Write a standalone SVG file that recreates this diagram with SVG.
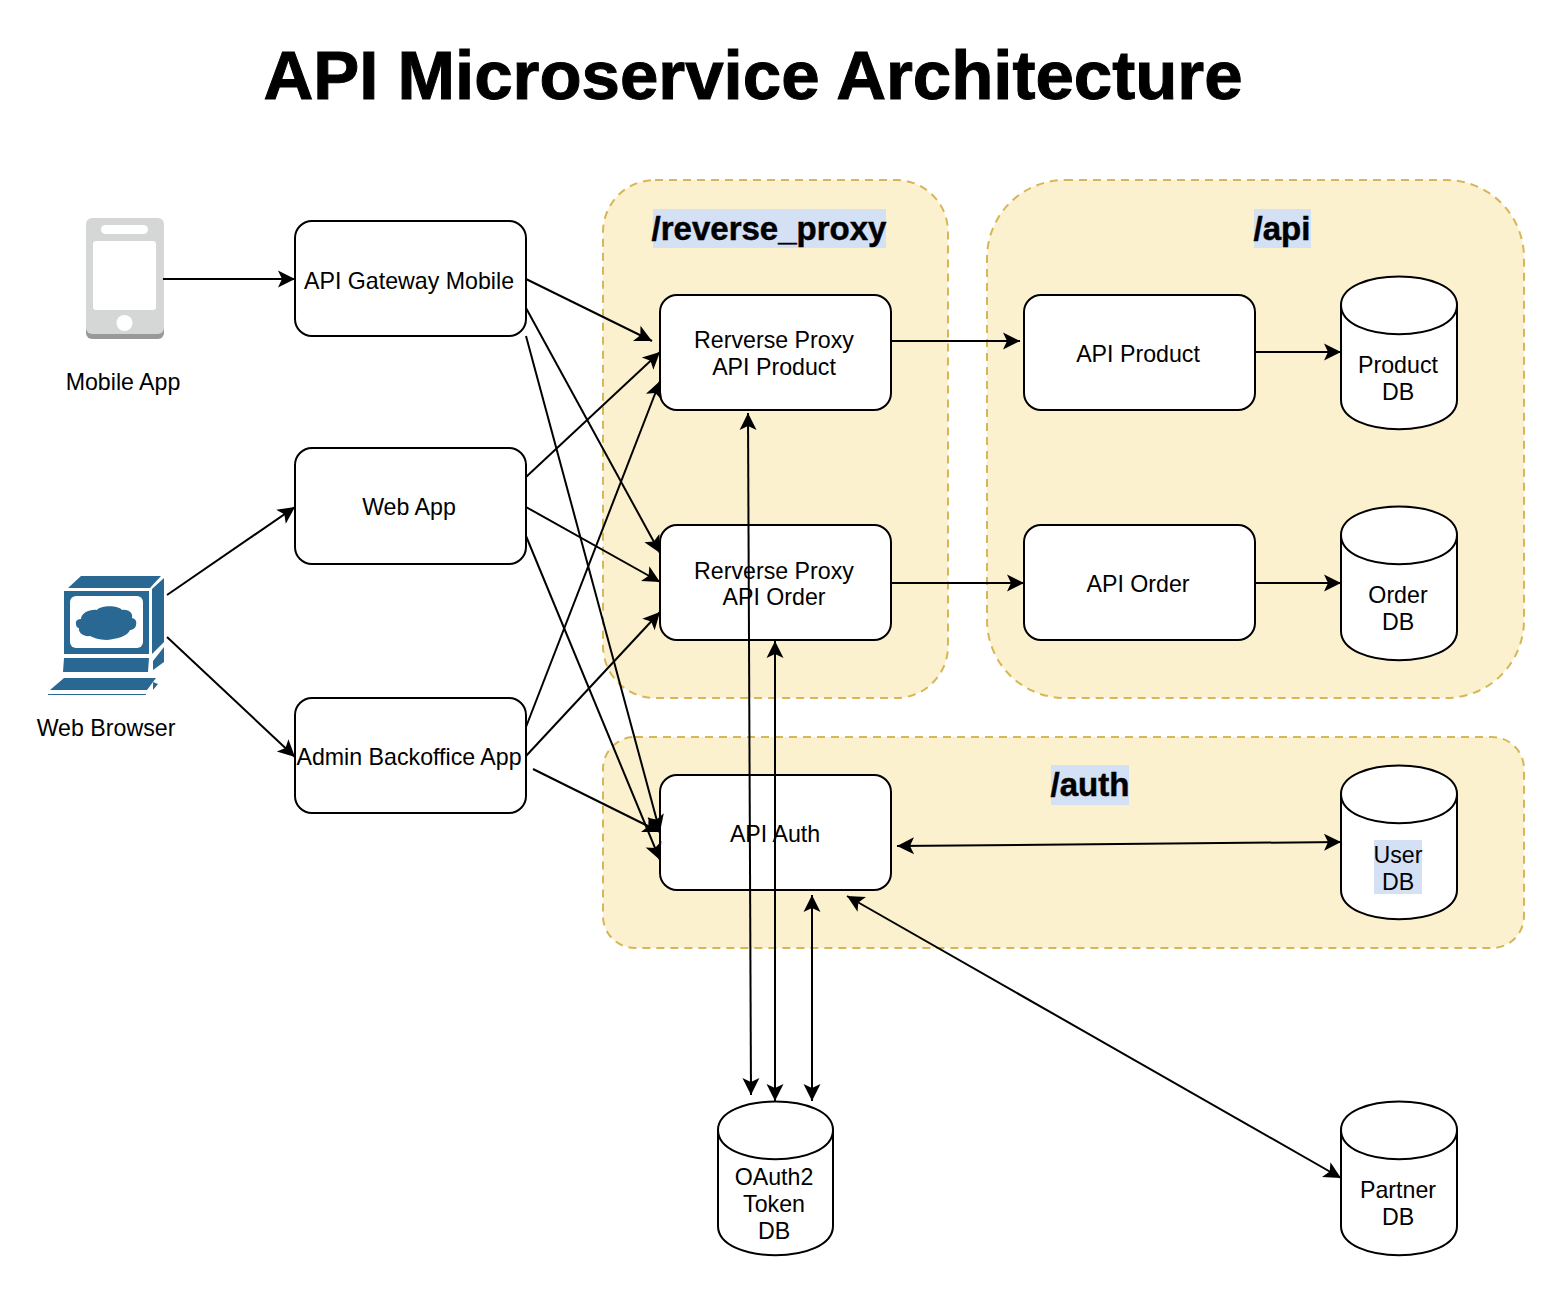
<svg xmlns="http://www.w3.org/2000/svg" width="1568" height="1304" viewBox="0 0 1568 1304">
<style>
text{font-family:"Liberation Sans",Arial,sans-serif;font-size:23.2px;fill:#000;text-anchor:middle}
.zone{fill:#fcf1cf;stroke:#d6b656;stroke-width:2;stroke-dasharray:8 6}
.box,.db{fill:#fff;stroke:#000;stroke-width:2}
.db2{fill:none;stroke:#000;stroke-width:2}
.h{font-size:33px;font-weight:bold;stroke:#000;stroke-width:.5}
.hl{fill:#d4e1f5}
.e{fill:none;stroke:#000;stroke-width:2;marker-end:url(#a)}
.b{marker-start:url(#a)}
.ic{fill:#2a6894}
</style>
<defs>
<marker id="a" markerUnits="userSpaceOnUse" markerWidth="20" markerHeight="20" refX="18" refY="10" orient="auto-start-reverse" viewBox="0 0 20 20"><path d="M1 1.500L18 10L1 18.500L5 10Z" fill="#000"/></marker>
</defs>
<rect width="1568" height="1304" fill="#fff"/>
<text x="753" y="99" style="font-size:69px;font-weight:bold;stroke:#000;stroke-width:1">API Microservice Architecture</text>

<g id="zone-reverse-proxy"><rect class="zone" x="603" y="180" width="345" height="518" rx="52"/><rect class="hl" x="653" y="209" width="233" height="39"/><text class="h" x="769" y="240">/reverse_proxy</text></g>
<g id="zone-api"><rect class="zone" x="987" y="180" width="537" height="518" rx="78"/><rect class="hl" x="1254" y="209" width="57" height="39"/><text class="h" x="1282" y="240">/api</text></g>
<g id="zone-auth"><rect class="zone" x="603" y="737" width="921" height="211" rx="32"/><rect class="hl" x="1051" y="765" width="78" height="40"/><text class="h" x="1090" y="796">/auth</text></g>

<g id="mobile-app">
<rect x="86" y="222" width="78" height="117" rx="6" fill="#999"/>
<rect x="86" y="218" width="78" height="116" rx="6" fill="#d5d6d6"/>
<rect x="101" y="225" width="47" height="9" rx="4.500" fill="#fff"/>
<rect x="93" y="241" width="63" height="69" rx="3" fill="#fff"/>
<circle cx="124.500" cy="323" r="8" fill="#fff"/>
<text x="123" y="390">Mobile App</text>
</g>
<g id="web-browser">
<path class="ic" d="M68 588L81 576H161L150 588ZM152 589L164 578V642L152 654ZM64 591H149V654H64ZM64 658H149L148 672H63ZM153 661L164 647V662L153 670ZM64 678H156L147 690H50ZM48 694H146V695H48ZM153 682L158 684L153 690Z"/>
<rect x="70" y="596" width="73" height="52" rx="6" fill="#fff"/>
<path class="ic" d="M76 624C75 620 79 619 81 619C81 613 90 609 97 610C101 605 118 605 122 610C129 609 133 613 132 618C136 619 137 622 136 625C136 628 132 630 130 630C128 636 117 639 107 640C99 640 92 637 90 636C83 637 78 632 79 628C77 628 76 626 76 624Z"/>
<text x="106" y="736">Web Browser</text>
</g>

<g id="api-gateway-mobile"><rect class="box" x="295" y="221" width="231" height="115" rx="17"/><text x="409" y="289">API Gateway Mobile</text></g>
<g id="web-app"><rect class="box" x="295" y="448" width="231" height="116" rx="17"/><text x="409" y="515">Web App</text></g>
<g id="admin-backoffice-app"><rect class="box" x="295" y="698" width="231" height="115" rx="17"/><text x="409" y="765">Admin Backoffice App</text></g>
<g id="reverse-proxy-product"><rect class="box" x="660" y="295" width="231" height="115" rx="17"/><text x="774" y="348">Rerverse Proxy</text><text x="774" y="375">API Product</text></g>
<g id="reverse-proxy-order"><rect class="box" x="660" y="525" width="231" height="115" rx="17"/><text x="774" y="579">Rerverse Proxy</text><text x="774" y="605">API Order</text></g>
<g id="api-auth"><rect class="box" x="660" y="775" width="231" height="115" rx="17"/><text x="775" y="842">API Auth</text></g>
<g id="api-product"><rect class="box" x="1024" y="295" width="231" height="115" rx="17"/><text x="1138" y="362">API Product</text></g>
<g id="api-order"><rect class="box" x="1024" y="525" width="231" height="115" rx="17"/><text x="1138" y="592">API Order</text></g>

<g id="product-db"><path class="db" d="M1341 305C1341 267 1457 267 1457 305V400C1457 439 1341 439 1341 400Z"/><path class="db2" d="M1341 305C1341 344 1457 344 1457 305"/><text x="1398" y="373">Product</text><text x="1398" y="400">DB</text></g>
<g id="order-db"><path class="db" d="M1341 535C1341 497 1457 497 1457 535V631C1457 670 1341 670 1341 631Z"/><path class="db2" d="M1341 535C1341 574 1457 574 1457 535"/><text x="1398" y="603">Order</text><text x="1398" y="630">DB</text></g>
<g id="user-db"><path class="db" d="M1341 794C1341 756 1457 756 1457 794V890C1457 929 1341 929 1341 890Z"/><path class="db2" d="M1341 794C1341 833 1457 833 1457 794"/><rect class="hl" x="1374" y="840" width="48" height="54"/><text x="1398" y="863">User</text><text x="1398" y="890">DB</text></g>
<g id="oauth2-token-db"><path class="db" d="M718 1130C718 1092 833 1092 833 1130V1226C833 1265 718 1265 718 1226Z"/><path class="db2" d="M718 1130C718 1169 833 1169 833 1130"/><text x="774" y="1185">OAuth2</text><text x="774" y="1212">Token</text><text x="774" y="1239">DB</text></g>
<g id="partner-db"><path class="db" d="M1341 1130C1341 1092 1457 1092 1457 1130V1226C1457 1265 1341 1265 1341 1226Z"/><path class="db2" d="M1341 1130C1341 1169 1457 1169 1457 1130"/><text x="1398" y="1198">Partner</text><text x="1398" y="1225">DB</text></g>

<g id="connectors">
<path class="e" d="M163 279H295"/>
<path class="e" d="M167 595L295 507"/>
<path class="e" d="M167 637L295 757"/>
<path class="e" d="M526 279L652 341"/>
<path class="e" d="M526 308L660 553"/>
<path class="e" d="M526 336L660 832"/>
<path class="e" d="M526 477L660 352"/>
<path class="e" d="M526 507L660 582"/>
<path class="e" d="M526 536L660 860"/>
<path class="e" d="M526 727L660 381"/>
<path class="e" d="M526 756L660 612"/>
<path class="e" d="M533 769L660 832"/>
<path class="e" d="M892 341H1020"/>
<path class="e" d="M892 583H1024"/>
<path class="e" d="M1255 352H1341"/>
<path class="e" d="M1255 583H1341"/>
<path class="e b" d="M748 413L751 1095"/>
<path class="e b" d="M775 641V1101"/>
<path class="e b" d="M812 895V1101"/>
<path class="e b" d="M897 846L1341 842"/>
<path class="e b" d="M847 896L1341 1178"/>
</g>
</svg>
